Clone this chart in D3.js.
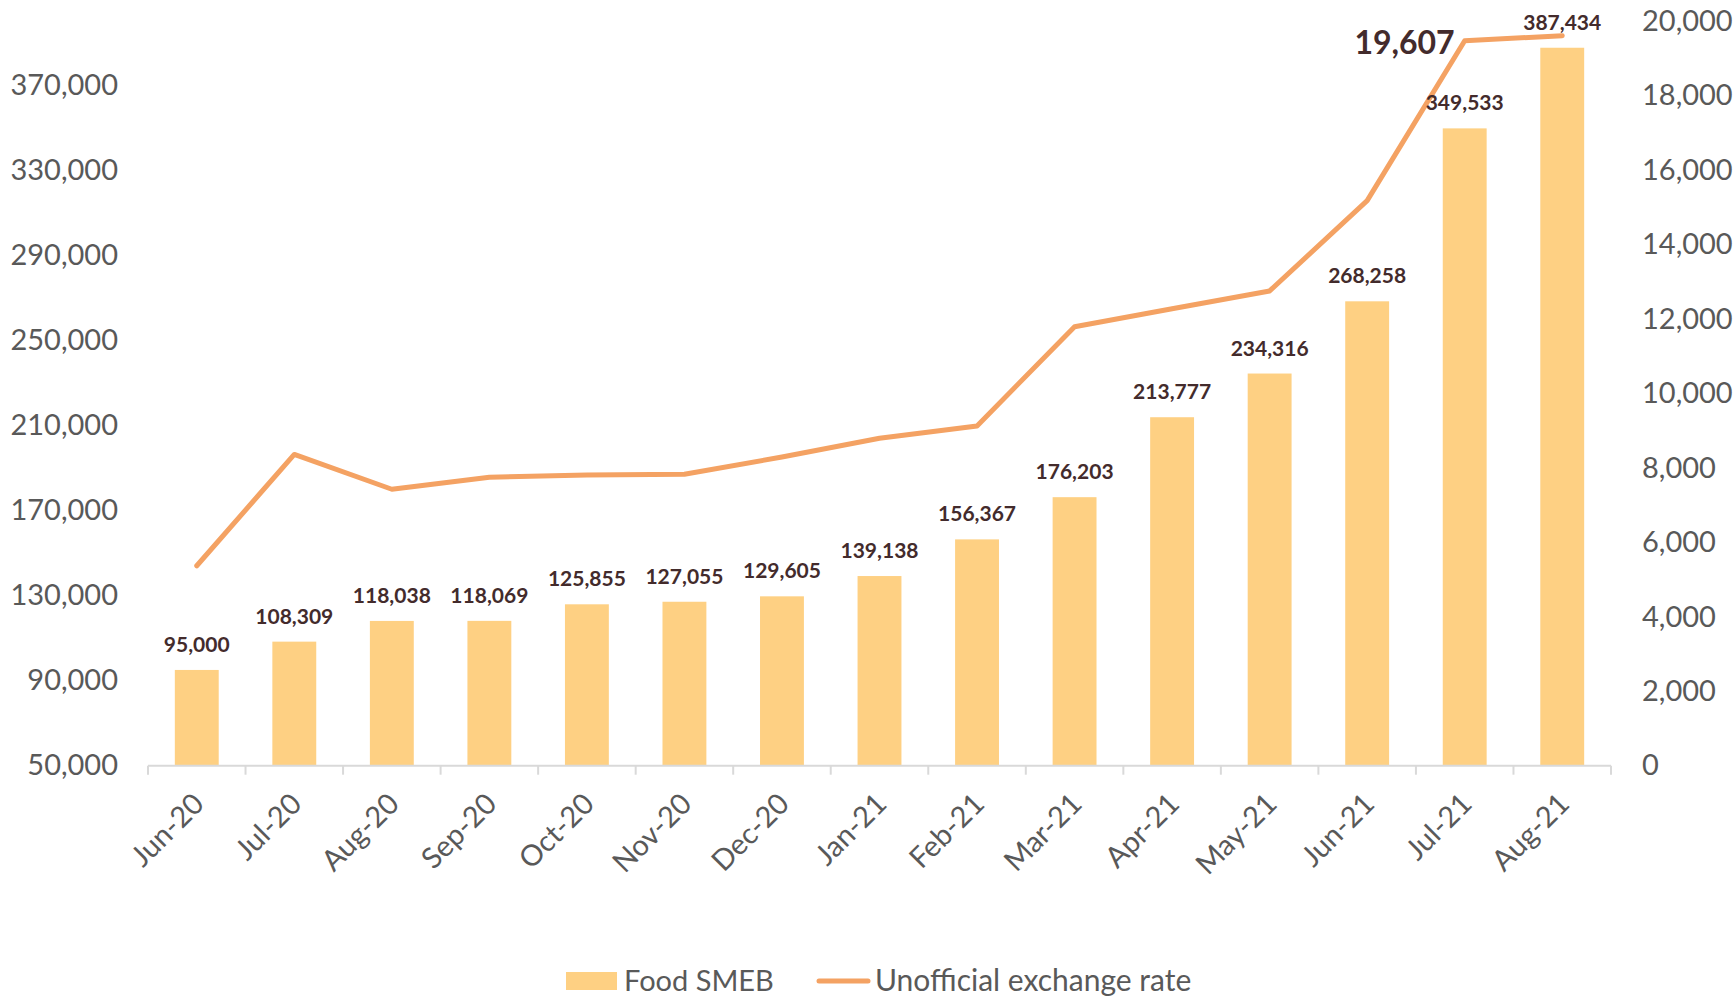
<!DOCTYPE html>
<html>
<head>
<meta charset="utf-8">
<script src="https://cdn.jsdelivr.net/npm/d3@7"></script>
<style>
  html, body { margin: 0; padding: 0; background: #fff; }
  svg { display: block; font-family: Lato, "Open Sans", sans-serif; }
</style>
</head>
<body>
<svg id="chart" width="1734" height="996"></svg>
<script>
const months = ["Jun-20","Jul-20","Aug-20","Sep-20","Oct-20","Nov-20","Dec-20","Jan-21","Feb-21","Mar-21","Apr-21","May-21","Jun-21","Jul-21","Aug-21"];
const foodSMEB = [95000,108309,118038,118069,125855,127055,129605,139138,156367,176203,213777,234316,268258,349533,387434];
const exchangeRate = [5370,8360,7425,7745,7810,7825,8290,8795,9125,11790,12270,12750,15175,19470,19607];
const leftTicks = [50000,90000,130000,170000,210000,250000,290000,330000,370000];
const rightTicks = [0,2000,4000,6000,8000,10000,12000,14000,16000,18000,20000];
const highlightLabel = "19,607";
const seriesNames = ["Food SMEB","Unofficial exchange rate"];

const svg = d3.select("#chart");
const x0 = 148, x1 = 1611, yBase = 765.7, yTop = 21;
const barColor = "#FED083", lineColor = "#F4A263", labelColor = "#432B2C", axisText = "#595959";
const fmt = d3.format(",");

const x = d3.scaleBand().domain(months).range([x0, x1]).paddingInner(0.55).paddingOuter(0.275);
const yL = d3.scaleLinear().domain([50000, 400000]).range([yBase, yTop]);
const yR = d3.scaleLinear().domain([0, 20000]).range([yBase, yTop]);

// bars
svg.append("g").selectAll("rect").data(months).join("rect")
  .attr("x", d => x(d)).attr("width", x.bandwidth())
  .attr("y", (d,i) => yL(foodSMEB[i])).attr("height", (d,i) => yBase - yL(foodSMEB[i]))
  .attr("fill", barColor);

// x axis baseline and boundary ticks
const step = x.step();
const gx = svg.append("g");
gx.append("line").attr("x1", x0).attr("x2", x1).attr("y1", yBase).attr("y2", yBase)
  .attr("stroke", "#D9D9D9").attr("stroke-width", 2);
gx.selectAll("line.tk").data(d3.range(months.length + 1)).join("line").attr("class","tk")
  .attr("x1", i => x0 + i * step).attr("x2", i => x0 + i * step)
  .attr("y1", yBase).attr("y2", yBase + 9)
  .attr("stroke", "#D9D9D9").attr("stroke-width", 2);

// x labels via axis
const xAxis = svg.append("g").attr("transform", `translate(0,${yBase})`)
  .call(d3.axisBottom(x).tickSize(0).tickPadding(0));
xAxis.select(".domain").remove();
xAxis.selectAll("text")
  .attr("font-size", 29).attr("fill", axisText).attr("font-family", "Lato, sans-serif")
  .attr("text-anchor", "end").attr("dy", null).attr("y", 0)
  .attr("transform", "translate(9,40) rotate(-45)");

// left axis
const la = svg.append("g").attr("transform", `translate(118,0)`)
  .call(d3.axisLeft(yL).tickValues(leftTicks).tickFormat(fmt).tickSize(0).tickPadding(0));
la.select(".domain").remove();
la.selectAll("text").attr("font-size", 29).attr("fill", axisText).attr("font-family", "Lato, sans-serif");

// right axis
const ra = svg.append("g").attr("transform", `translate(1642,0)`)
  .call(d3.axisRight(yR).tickValues(rightTicks).tickFormat(fmt).tickSize(0).tickPadding(0));
ra.select(".domain").remove();
ra.selectAll("text").attr("font-size", 29).attr("fill", axisText).attr("font-family", "Lato, sans-serif");

// line
const line = d3.line().x((d,i) => x(months[i]) + x.bandwidth()/2).y(d => yR(d));
svg.append("path").datum(exchangeRate).attr("d", line)
  .attr("fill", "none").attr("stroke", lineColor).attr("stroke-width", 5)
  .attr("stroke-linecap", "round").attr("stroke-linejoin", "round");

// bar labels
svg.append("g").selectAll("text").data(months).join("text")
  .attr("x", d => x(d) + x.bandwidth()/2)
  .attr("y", (d,i) => yL(foodSMEB[i]) - 18)
  .attr("text-anchor", "middle").attr("font-weight", "bold").attr("font-size", 21)
  .attr("fill", labelColor).text((d,i) => fmt(foodSMEB[i]));

// highlight label for latest exchange rate
svg.append("text")
  .attr("x", x(months[13]) + x.bandwidth()/2 - 10)
  .attr("y", yR(exchangeRate[14]) + 18)
  .attr("text-anchor", "end").attr("font-weight", "bold").attr("font-size", 32)
  .attr("fill", labelColor).text(highlightLabel);

// legend
const lg = svg.append("g");
lg.append("rect").attr("x", 566).attr("y", 972).attr("width", 51).attr("height", 18).attr("fill", barColor);
lg.append("text").attr("x", 624).attr("y", 991).attr("font-size", 29).attr("fill", axisText).text(seriesNames[0]);
lg.append("line").attr("x1", 819).attr("x2", 868).attr("y1", 981).attr("y2", 981)
  .attr("stroke", lineColor).attr("stroke-width", 5).attr("stroke-linecap", "round");
lg.append("text").attr("x", 875).attr("y", 991).attr("font-size", 30).attr("fill", axisText).text(seriesNames[1]);
</script>
</body>
</html>
